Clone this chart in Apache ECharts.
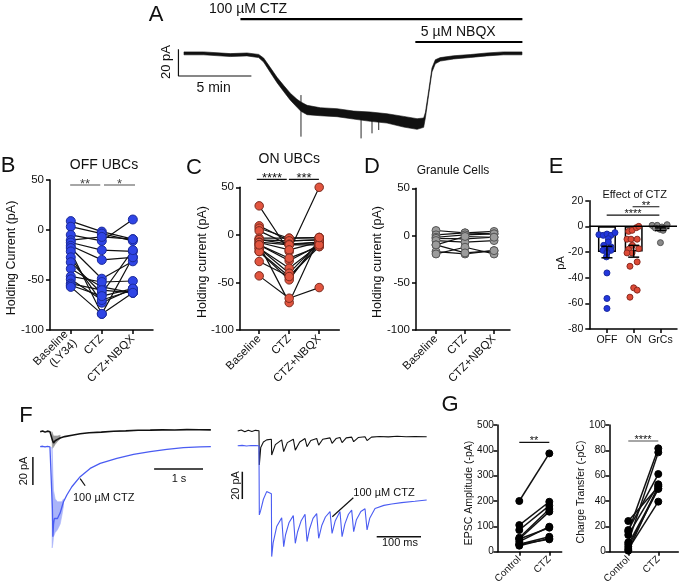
<!DOCTYPE html>
<html><head><meta charset="utf-8">
<script src="https://cdn.jsdelivr.net/npm/echarts@6/dist/echarts.min.js"></script>
<style>html,body{margin:0;padding:0;background:#fff}#c{width:681px;height:588px}</style>
</head><body><div id="c"></div>
<script>
// ---------- Panel A: holding current trace (min, pA) ----------
const tA = [0, 1.35, 3.18, 4.32, 5.12, 5.46, 5.92, 6.38, 6.83, 7.29, 7.75, 8.02, 8.44, 9.35, 10.49, 11.63, 12.78, 13.92, 15.06, 15.98, 16.43, 16.55, 16.77, 17.0, 17.23, 17.57, 18.49, 19.63, 20.77, 21.91, 23.17];
const midA = [0, 0, -1.3, -0.8, -2, -5, -12.5, -20, -26.3, -32.5, -37.5, -40, -42.5, -43.8, -44.5, -46.3, -47.5, -48.8, -51.3, -53, -52, -46.3, -30, -12.5, -6.3, -4.5, -3, -2, -0.8, 0, 0];
const noiseA = [1.1, 1.1, 1.1, 1.1, 1.2, 1.5, 1.8, 2, 2.3, 2.6, 3, 3.5, 3.5, 3, 3, 3, 3.5, 3.5, 4, 4, 3.5, 2, 1.5, 1.5, 1.5, 1.3, 1.2, 1.1, 1.1, 1.1, 1.1];
const spikesA = [[8.02, -31.3, -62.5], [12.14, -47, -63.8], [12.89, -47.5, -60], [13.35, -48, -57.5]];
const drugStartA = [3.87, 15.86]; // CTZ, NBQX (min)
const drugEndA = 23.2;

// ---------- Panel B: OFF UBCs ----------
const catsB = ['Baseline\n(LY34)', 'CTZ', 'CTZ+NBQX'];
const offBase = [8.9, 3.3, -4.9, -10.2, -12.5, -15.8, -18, -21.4, -27.3, -32.2, -38.8, -46.4, -49.3, -53.6, -55.3, -56.9];
const offCTZ  = [-1.6, -3.6, -10.9, -6.9, -20.1, -29.9, -48.7, -83.9, -72.7, -63.5, -56.9, -52, -70, -60.2, -66.1, -83.9];
const offNBQX = [-9.2, -10.9, 10.5, -9.2, -21.4, -27.3, -31.3, -27.3, -58.6, -20.1, -62.8, -51, -60.2, -62.8, -58.6, -62.8];

// ---------- Panel C: ON UBCs ----------
const catsC = ['Baseline', 'CTZ', 'CTZ+NBQX'];
const onBase = [30.5, 9.5, 7, 4.2, -3.5, -5.3, -5, -7.7, -8, -10.5, -10.5, -14, -17.5, -14, -17.5, -28, -10.5, -43.1];
const onCTZ  = [-17.5, -6.3, -3.5, -10.5, -3.5, -6.3, -9.8, -10.5, -15.8, -27.3, -24.5, -35, -43.8, -40.3, -47.3, -43.8, -71.2, -66.6];
const onNBQX = [50, -5.3, -2.8, -7.7, -2.8, -5.3, -7.7, -10.5, -7.7, -10.5, -12.3, -10.5, -12.3, -7.7, -5.3, -10.5, -2.8, -55.4];

// ---------- Panel D: Granule cells ----------
const gcBase = [5.3, 0.7, -1.8, -3, -5.3, -9.9, -17, -19.5, -9.9];
const gcCTZ  = [2.8, 2.8, 0.7, -3.5, -7, -1, -19.5, -12.4, -18.4];
const gcNBQX = [4.3, 1.8, 1.8, -1.8, -5.3, -1.8, -16, -19.5, -16];

// ---------- Panel E: effect of CTZ (pA) ----------
const catsE = ['OFF', 'ON', 'GrCs'];
const effOFF = [-6.5, -7, -6, -7, -4.9, -9.6, -12.2, -14.8, -16, -17.4, -18.7, -18.7, -20, -21, -23.8, -36.3, -56.2, -64];
const effON  = [-3.9, -3.1, -1.0, 0, -10, -10, -10, -17.9, -17.4, -20.7, -20.7, -27.7, -31.1, -47.9, -49.7, -55.2, -14.8];
const effGC  = [0.8, 0.8, -0.5, 1.3, -1.3, -2.3, -1.8, -12.7, -3.1];
const effMean = [-20, -19.5, -2.2];
const effSemLo = [-24.5, -24, -3.2];
const effSemHi = [-15.5, -14.8, -1.2];
// horizontal scatter jitter (layout only)
const jitOFF = [-0.3, -0.14, 0, 0.15, 0.3, 0.05, 0.05, -0.12, 0.15, -0.05, -0.15, 0.15, 0, 0, -0.02, 0, 0, 0];
const jitON  = [-0.19, -0.06, 0.1, 0.19, -0.25, -0.1, 0.13, -0.19, 0.19, -0.06, -0.25, 0.13, -0.14, 0, 0.13, -0.14, -0.05];
const jitGC  = [-0.31, -0.12, 0.06, 0.25, -0.19, -0.02, 0.13, 0, 0.1];

// ---------- Panel F left (s, pA) ----------
const tBlackFL = [0, 0.05, 0.1, 0.15, 0.2, 0.239, 0.25, 0.273, 0.307, 0.354, 0.409, 0.5, 0.65, 0.818, 1.0, 1.25, 1.5, 1.75, 2.0, 2.25, 2.5, 2.75, 3.0, 3.25, 3.49];
const blackFL = [0, 0.5, -0.3, 0.4, 0, 0, -6, -8, -6.5, -5.5, -4.5, -3.5, -2.5, -1.5, -0.7, -0.3, 0.3, 0.6, 1, 1.1, 1.3, 1.2, 1.5, 1.4, 1.3];
const tGrayFL = [0.239, 0.25, 0.273, 0.307, 0.354, 0.409];
const grayHiFL = [0, -1, -3, -3, -3, -2.5];
const grayLoFL = [0, -12, -11, -9, -7, -5];
const tBlueFL = [0, 0.05, 0.1, 0.15, 0.2, 0.239, 0.25, 0.26, 0.273, 0.29, 0.307, 0.33, 0.354, 0.38, 0.409, 0.443, 0.477, 0.546, 0.648, 0.818, 1.022, 1.227, 1.568, 1.909, 2.25, 2.59, 2.93, 3.27, 3.49];
const blueFL = [-10.7, -10.4, -10.9, -10.5, -10.8, -11, -55, -75, -66, -62, -63, -61, -62, -60, -58, -54, -50, -45.2, -39.3, -32.1, -26.2, -22.6, -19, -16.2, -14.3, -12.6, -11.4, -10.9, -10.7];
const tBandFL = [0.239, 0.245, 0.26, 0.273, 0.307, 0.354, 0.409, 0.443, 0.477];
const bandHiFL = [-11, -12, -30, -42, -48, -50, -50, -50, -48];
const bandLoFL = [-11, -83, -80, -75, -72, -70, -66, -60, -53];

// ---------- Panel F right (ms, pA) ----------
const tBlackFR = [0, 8, 16, 24, 32, 40, 48, 48.8, 52, 58, 65.4, 76, 76.7, 85, 99.3, 103, 103.8, 112, 125.5, 129.3, 130, 140, 152, 155.7, 156.5, 165, 178.3, 182, 182.8, 192, 208.4, 212.2, 213, 222, 230.9, 234.8, 235.6, 245, 257.3, 261, 261.8, 272, 287.4, 291.2, 292, 302, 320, 340, 360, 380, 400, 426.6];
const blackFR = [0, 0.8, -0.5, 0.6, -0.3, 0.5, 0.2, -24.9, -12, -8, -6.5, -6, -17.6, -10, -6.5, -6.5, -15.1, -8.5, -6, -6, -14, -8, -5.5, -5.5, -11.5, -7, -5.5, -5.5, -10.3, -6, -5, -5, -9, -5.5, -4.8, -5, -8.5, -5, -4.5, -4.5, -7.8, -4.8, -4.2, -4.5, -7, -4.5, -4, -4.3, -3.8, -4.2, -4, -4.2];
const tBlueFR = [0, 10, 20, 30, 40, 48, 48.8, 52, 58, 65.4, 76, 76.7, 80, 88, 99.3, 103, 103.8, 108, 116, 125.5, 129.3, 130, 135, 143, 152, 155.7, 156.5, 162, 170, 178.3, 182, 182.8, 190, 198, 208.4, 212.2, 213, 220, 230.9, 234.8, 235.6, 242, 250, 257.3, 261, 261.8, 268, 278, 287.4, 291.2, 292, 298, 310, 330, 347.6, 370, 400, 426.6];
const blueFR = [-10.8, -10.5, -11, -10.6, -10.7, -10.8, -61.5, -58, -50, -44.4, -46, -92, -82, -70, -63.5, -63, -84.7, -76, -67, -62, -62, -82.3, -74, -66, -61, -61, -81, -72, -64, -60.5, -60, -78.6, -69, -63, -59, -58.5, -75, -66, -59, -59, -77.4, -68, -61, -58, -58, -73.7, -65, -59, -57, -57, -72.5, -64, -56.7, -54.5, -53.5, -52.5, -51.5, -50.5];

// ---------- Panel G ----------
const catsG = ['Control', 'CTZ'];
const ampControl = [200, 105, 85.5, 55, 50, 39.5, 50, 29, 23.7, 29];
const ampCTZ     = [388, 197, 181.6, 168.4, 158, 98.7, 94.7, 59, 52.6, 48.7];
const chgControl = [24.2, 17.1, 15.8, 13.2, 7.4, 5.8, 3.9, 2.1, 0.8];
const chgCTZ     = [51.3, 61.3, 81.6, 53.2, 78.4, 50, 49.5, 39.5, 52];

// =====================================================
const FONT = "'Liberation Sans', Arial, Helvetica, sans-serif";
const chart = echarts.init(document.getElementById('c'), null, {renderer: 'canvas'});

function axX(gi, min, max, labels, o) {
  const vals = labels.map((_, i) => i);
  return {gridIndex: gi, type: 'value', min, max,
    axisLine: {show: true, onZero: false, lineStyle: {color: '#000', width: 1.5}},
    axisTick: {show: true, customValues: vals, length: 4, lineStyle: {color: '#000', width: 1.5}},
    axisLabel: {show: true, customValues: vals, formatter: v => labels[Math.round(v)], rotate: o.rotate || 0,
      fontSize: o.fs, fontFamily: FONT, color: '#111', margin: o.margin || 7, lineHeight: o.fs + 1},
    splitLine: {show: false}};
}
function axY(gi, min, max, interval, fs, margin) {
  return {gridIndex: gi, type: 'value', min, max, interval,
    axisLine: {show: true, onZero: false, lineStyle: {color: '#000', width: 1.5}},
    axisTick: {show: true, length: 4, lineStyle: {color: '#000', width: 1.5}},
    axisLabel: {fontSize: fs, fontFamily: FONT, color: '#111', margin: margin || 6},
    splitLine: {show: false}};
}
function hid(gi, min, max) { return {gridIndex: gi, type: 'value', min, max, show: false, splitLine: {show: false}}; }

function line(gi, data, color, width, z) {
  return {type: 'line', xAxisIndex: gi, yAxisIndex: gi, data, symbol: 'none', showSymbol: false,
    lineStyle: {color, width}, z: z || 2, silent: true, clip: false, animation: false};
}
function dots(gi, data, size, fill, border, z) {
  return {type: 'scatter', xAxisIndex: gi, yAxisIndex: gi, data, symbolSize: size,
    itemStyle: {color: fill, borderColor: border, borderWidth: 1, opacity: 1}, z: z || 5, silent: true, clip: false, animation: false};
}
function band(gi, t, hi, lo, color, z) {
  return {type: 'custom', xAxisIndex: gi, yAxisIndex: gi, z: z || 2, silent: true, animation: false,
    data: [[t[0], hi[0]]],
    renderItem: (p, api) => {
      const pts = [];
      for (let i = 0; i < t.length; i++) pts.push(api.coord([t[i], hi[i]]));
      for (let i = t.length - 1; i >= 0; i--) pts.push(api.coord([t[i], lo[i]]));
      return {type: 'polygon', shape: {points: pts}, style: {fill: color, stroke: color, lineWidth: 0.6}};
    }};
}
const zip = (t, v) => t.map((x, i) => [x, v[i]]);

const series = [];
// ----- A -----
series.push(band(0, tA, midA.map((m, i) => m + noiseA[i]), midA.map((m, i) => m - noiseA[i]), '#111', 3));
series.push({type: 'custom', xAxisIndex: 0, yAxisIndex: 0, z: 3, silent: true, animation: false,
  data: spikesA, encode: {x: 0, y: [1, 2]},
  renderItem: (p, api) => {
    const a = api.coord([api.value(0), api.value(1)]), b = api.coord([api.value(0), api.value(2)]);
    return {type: 'line', shape: {x1: a[0], y1: a[1], x2: b[0], y2: b[1]}, style: {stroke: '#111', lineWidth: 0.9}};
  }});
series.push(line(0, [[-0.38, 3], [-0.38, -17], [4.62, -17]], '#111', 1.2));
series.push(line(0, [[drugStartA[0], 25.7], [drugEndA, 25.7]], '#000', 2.2));
series.push(line(0, [[drugStartA[1], 8.5], [drugEndA, 8.5]], '#000', 2.2));

// ----- B, C, D paired plots -----
function paired(gi, a, b, c, size, fill, border) {
  a.forEach((v, i) => series.push(line(gi, [[0, v], [1, b[i]], [2, c[i]]], '#111', 1.2, 2)));
  const pts = [];
  a.forEach(v => pts.push([0, v])); b.forEach(v => pts.push([1, v])); c.forEach(v => pts.push([2, v]));
  series.push(dots(gi, pts, size, fill, border, 5));
}
paired(1, offBase, offCTZ, offNBQX, 9, '#2f45e6', '#1b2a9a');
paired(2, onBase, onCTZ, onNBQX, 8.5, '#e2553f', '#7a2a1e');
paired(3, gcBase, gcCTZ, gcNBQX, 8, '#9c9c9c', '#555');
// significance bars
series.push(line(1, [[-0.02, 45], [0.95, 45]], '#888', 1.5));
series.push(line(1, [[1.07, 45], [2.07, 45]], '#888', 1.5));
series.push(line(2, [[-0.08, 58.4], [0.92, 58.4]], '#111', 1.3));
series.push(line(2, [[0.99, 58.4], [1.99, 58.4]], '#111', 1.3));

// ----- E -----
series.push({type: 'bar', xAxisIndex: 4, yAxisIndex: 4, barWidth: 18, z: 2, silent: true, animation: false,
  data: effMean.map((m, i) => [i, m]),
  itemStyle: {color: '#fff', borderColor: '#000', borderWidth: 1.5}});
series.push(dots(4, effOFF.map((v, i) => [0 + jitOFF[i], v]), 6, '#2236dd', '#1a2aa0', 4));
series.push(dots(4, effON.map((v, i) => [1 + jitON[i], v]), 6, '#dd4a36', '#8a2a20', 4));
series.push(dots(4, effGC.map((v, i) => [2 + jitGC[i], v]), 6, '#8a8a8a', '#555', 4));
series.push({type: 'custom', xAxisIndex: 4, yAxisIndex: 4, z: 6, silent: true, animation: false,
  data: effMean.map((m, i) => [i, m, effSemLo[i], effSemHi[i]]), encode: {x: 0, y: [2, 3]},
  renderItem: (p, api) => {
    const x = api.value(0);
    const lo = api.coord([x, api.value(2)]), hi = api.coord([x, api.value(3)]);
    const w = 5.5, st = {stroke: '#000', lineWidth: 1.5};
    return {type: 'group', children: [
      {type: 'line', shape: {x1: lo[0], y1: lo[1], x2: hi[0], y2: hi[1]}, style: st},
      {type: 'line', shape: {x1: lo[0] - w, y1: lo[1], x2: lo[0] + w, y2: lo[1]}, style: st},
      {type: 'line', shape: {x1: hi[0] - w, y1: hi[1], x2: hi[0] + w, y2: hi[1]}, style: st}]};
  }});
series.push(line(4, [[-0.66, 0], [2.62, 0]], '#000', 1.5, 7));
series.push(line(4, [[0.96, 15.3], [1.96, 15.3]], '#111', 1.2));
series.push(line(4, [[-0.01, 8.8], [1.96, 8.8]], '#111', 1.2));

// ----- F left -----
series.push(band(5, tGrayFL, grayHiFL, grayLoFL, '#9a9a9a', 2));
series.push(line(5, zip(tBlackFL, blackFL), '#111', 1.6, 3));
series.push(band(5, tBandFL, bandHiFL, bandLoFL, '#aab4fa', 2));
series.push(line(5, zip(tBlueFL, blueFL), '#4a5cf2', 1.3, 3));
series.push(line(5, [[-0.149, -18], [-0.149, -38]], '#111', 1.5));
series.push(line(5, [[2.33, -26.6], [3.33, -26.6]], '#111', 1.5));
series.push(line(5, [[0.818, -33.5], [0.92, -38.6]], '#111', 1.2));

// ----- F right -----
series.push(line(6, zip(tBlackFR, blackFR), '#111', 1.1, 3));
series.push(line(6, zip(tBlueFR, blueFR), '#4a5cf2', 1.1, 3));
series.push(line(6, [[10.4, -29.8], [10.4, -49.8]], '#111', 1.5));
series.push(line(6, [[313.8, -77.4], [413.8, -77.4]], '#111', 1.5));
series.push(line(6, [[213.5, -62.8], [261, -48.9]], '#111', 1.2));

// ----- G -----
ampControl.forEach((v, i) => series.push(line(7, [[0, v], [1, ampCTZ[i]]], '#111', 1.5)));
series.push(dots(7, ampControl.map(v => [0, v]).concat(ampCTZ.map(v => [1, v])), 7, '#000', '#000'));
chgControl.forEach((v, i) => series.push(line(8, [[0, v], [1, chgCTZ[i]]], '#111', 1.5)));
series.push(dots(8, chgControl.map(v => [0, v]).concat(chgCTZ.map(v => [1, v])), 7, '#000', '#000'));
series.push(line(7, [[0, 431.7], [1, 431.7]], '#111', 1.3));
series.push(line(8, [[0, 87.4], [1, 87.4]], '#888', 1.5));

// ----- texts -----
function T(x, y, text, size, o) {
  o = o || {};
  return {type: 'text', x, y, rotation: o.rot ? Math.PI / 2 : 0, silent: true, z: 100,
    style: {text, fontSize: size, fontFamily: FONT, fill: o.color || '#111',
      align: o.align || 'center', verticalAlign: 'middle', textAlign: o.align || 'center', textVerticalAlign: 'middle'}};
}
const R = {rot: true};
const graphic = [
  T(156, 15, 'A', 22),
  T(209, 9.5, '100 µM CTZ', 14, {align: 'left'}),
  T(420.7, 32.5, '5 µM NBQX', 14, {align: 'left'}),
  T(196.5, 88, '5 min', 14, {align: 'left'}),
  T(166, 62, '20 pA', 13, R),
  T(8, 166, 'B', 22),
  T(104, 165, 'OFF UBCs', 14),
  T(85, 184, '**', 13, {color: '#444'}),
  T(119.5, 184, '*', 13, {color: '#444'}),
  T(12, 258, 'Holding Current (pA)', 12.5, R),
  T(194, 168, 'C', 22),
  T(289.3, 159, 'ON UBCs', 14),
  T(272, 178.3, '****', 13),
  T(304, 178.3, '***', 13),
  T(203, 262, 'Holding current (pA)', 12.5, R),
  T(372, 167, 'D', 22),
  T(453, 171, 'Granule Cells', 12),
  T(378, 262, 'Holding current (pA)', 12.5, R),
  T(556, 167, 'E', 22),
  T(634.7, 195, 'Effect of CTZ', 11),
  T(646, 205.7, '**', 11),
  T(633, 214, '****', 11),
  T(561, 263, 'pA', 11, R),
  T(26, 416, 'F', 22),
  T(24, 471, '20 pA', 11, R),
  T(179, 479, '1 s', 11),
  T(73, 497.5, '100 µM CTZ', 11, {align: 'left'}),
  T(236, 485.5, '20 pA', 11, R),
  T(400, 543, '100 ms', 11),
  T(353.3, 492.5, '100 µM CTZ', 11, {align: 'left'}),
  T(450, 405, 'G', 22),
  T(469.5, 493, 'EPSC Amplitude (-pA)', 10.5, R),
  T(581, 492, 'Charge Transfer (-pC)', 10.5, R),
  T(534, 441.3, '**', 11),
  T(643, 440, '****', 11)
];

chart.setOption({
  animation: false,
  backgroundColor: '#fff',
  textStyle: {fontFamily: FONT},
  grid: [
    {left: 169.4, top: 6.7, width: 353, height: 133.3},
    {left: 50, top: 180, width: 103, height: 150},
    {left: 240, top: 187.3, width: 99.3, height: 142.7},
    {left: 416, top: 188.3, width: 94, height: 141.7},
    {left: 589.3, top: 200.7, width: 87.7, height: 128.3},
    {left: 25.5, top: 420.5, width: 189.5, height: 134.4},
    {left: 230, top: 420.1, width: 200, height: 139.2},
    {left: 497.3, top: 425, width: 64.4, height: 126.7},
    {left: 609.3, top: 425, width: 69, height: 126.7}
  ],
  xAxis: [
    hid(0, -1, 23.2),
    axX(1, -0.67, 2.65, catsB, {rotate: 45, fs: 11.5, margin: 7}),
    axX(2, -0.64, 2.67, catsC, {rotate: 45, fs: 11.5, margin: 7}),
    axX(3, -0.69, 2.55, catsC, {rotate: 45, fs: 11.5, margin: 7}),
    axX(4, -0.66, 2.62, catsE, {rotate: 0, fs: 10.5, margin: 5}),
    hid(5, -0.3, 3.575),
    hid(6, -17.4, 434.1),
    axX(7, -0.733, 1.413, catsG, {rotate: 45, fs: 10, margin: 6}),
    axX(8, -0.633, 1.667, catsG, {rotate: 45, fs: 10, margin: 6})
  ],
  yAxis: [
    hid(0, -65, 35),
    axY(1, -100, 50, 50, 11.5),
    axY(2, -100, 50, 50, 11.5),
    axY(3, -100, 50, 50, 11.5),
    axY(4, -80, 20, 20, 10.5),
    hid(5, -88, 8),
    hid(6, -94, 8),
    axY(7, 0, 500, 100, 10, 3.5),
    axY(8, 0, 100, 20, 10, 3.5)
  ],
  series,
  graphic
});
</script></body></html>
